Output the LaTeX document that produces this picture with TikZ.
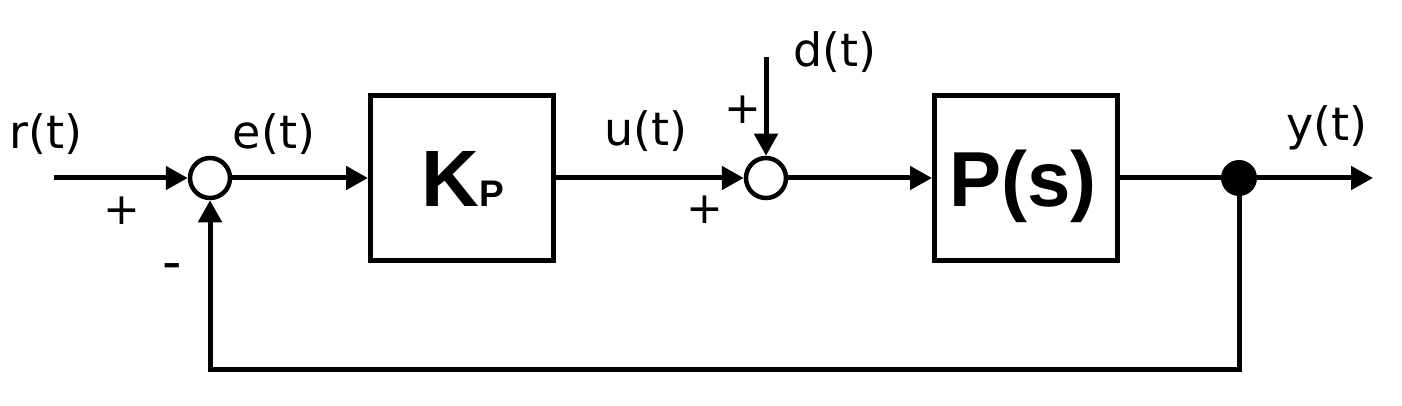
\documentclass[tikz,border=0pt]{standalone}
\usepackage{fontspec}
\setmainfont{Liberation Sans}
\newfontfamily\lblfont{DejaVu Sans}
\usetikzlibrary{arrows.meta}
\begin{document}
\begin{tikzpicture}[x=1pt,y=-1pt,
  sig/.style={line width=5pt},
  arr/.style={sig,-{Triangle[length=22pt,width=23pt]}},
  sumnode/.style={circle,draw,line width=4.5pt,minimum size=40pt,inner sep=0pt},
  blk/.style={draw,line width=5pt,minimum width=183pt,minimum height=165pt,inner sep=0pt},
  lbl/.style={inner sep=0pt,font=\lblfont\fontsize{46}{46}\selectfont},
  sgn/.style={inner sep=0pt,font=\lblfont\fontsize{44}{44}\selectfont}]
\useasboundingbox (0,0) rectangle (1402,406);
% nodes
\coordinate (in) at (54,178);
\node[sumnode] (s1) at (210,178) {};
\node[blk] (K) at (462,178) {};
\node[inner sep=0pt,anchor=base] (Klbl) at (463,207) {\fontsize{80}{80}\selectfont\bfseries K\fontsize{37}{37}\selectfont P};
\node[sumnode] (s2) at (766,178) {};
\coordinate (dtop) at (766,57);
\node[blk] (P) at (1026,178) {};
\node[inner sep=0pt,anchor=base] (Plbl) at (1023,207) {\fontsize{78}{78}\selectfont\bfseries P(s)};
\node[circle,fill,minimum size=36pt,inner sep=0pt] (dot) at (1239,178) {};
\coordinate (out) at (1373,178);
\coordinate (fb1) at (1239,369);
\coordinate (fb2) at (210,369);
% labels
\node[lbl] (lr) at (46,134) {r(t)};
\node[lbl] (le) at (274,134) {e(t)};
\node[lbl] (lu) at (646,131) {u(t)};
\node[lbl] (ld) at (835,52) {d(t)};
\node[lbl] (ly) at (1327,128) {y(t)};
\node[sgn] (p1) at (122,211) {+};
\node[sgn,font=\lblfont\fontsize{54}{54}\selectfont] (m1) at (172,272) {-};
\node[sgn] (p2) at (705,210) {+};
\node[sgn] (p3) at (743,110) {+};
% connectors
\draw[arr] (in) -- (s1.west);
\draw[arr] (s1.east) -- (K.west);
\draw[arr] (K.east) -- (s2.west);
\draw[arr] (dtop) -- (s2.north);
\draw[arr] (s2.east) -- (P.west);
\draw[sig] (P.east) -- (dot.center);
\draw[arr] (dot.center) -- (out);
\draw[arr] (dot.center) -- (fb1) -- (fb2) -- (s1.south);
\end{tikzpicture}
\end{document}
